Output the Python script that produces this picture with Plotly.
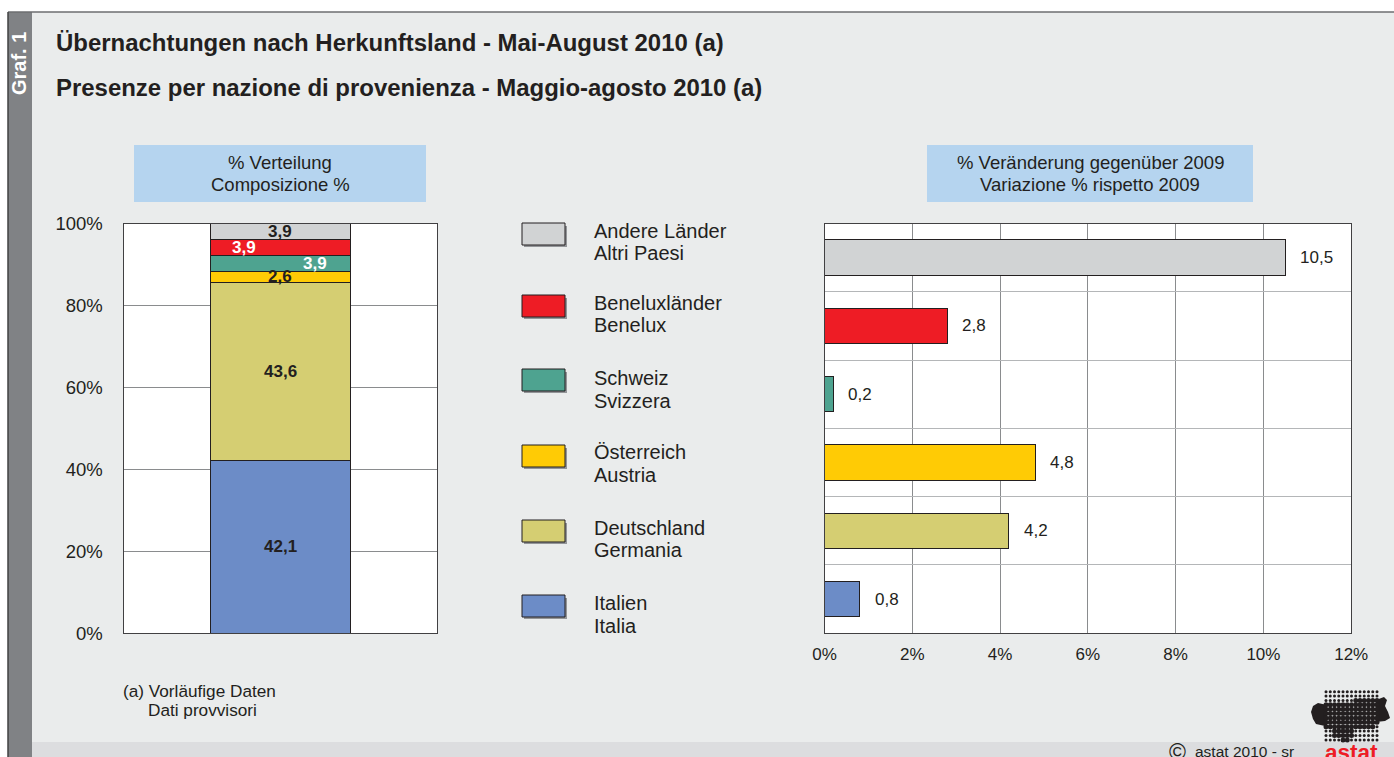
import plotly.graph_objects as go

W, H = 1394, 757

# ---- data ----
categories_de = ["Italien", "Deutschland", "Österreich", "Schweiz", "Beneluxländer", "Andere Länder"]
categories_it = ["Italia", "Germania", "Austria", "Svizzera", "Benelux", "Altri Paesi"]
composition = [42.1, 43.6, 2.6, 3.9, 3.9, 3.9]
change_2009 = [0.8, 4.2, 4.8, 0.2, 2.8, 10.5]
colors = ["#6C8CC7", "#D5CE72", "#FFCB05", "#4EA390", "#EE1C25", "#D1D3D4"]
comp_label_colors = ["#231F20", "#231F20", "#231F20", "#FFFFFF", "#FFFFFF", "#231F20"]
comp_label_shift = [0, 0, 0, 35, -36, 0]
left_ticks = [0, 20, 40, 60, 80, 100]
right_ticks = [0, 2, 4, 6, 8, 10, 12]
title_de = "Übernachtungen nach Herkunftsland - Mai-August 2010 (a)"
title_it = "Presenze per nazione di provenienza - Maggio-agosto 2010 (a)"
panel_left = ["% Verteilung", "Composizione %"]
panel_right = ["% Veränderung gegenüber 2009", "Variazione % rispetto 2009"]
footnote = ["(a) Vorläufige Daten", "Dati provvisori"]
credit = "astat 2010 - sr"

FONT = "Liberation Sans, Arial, sans-serif"
INK = "#231F20"
FRAME = "#414042"
BG = "#EAECEC"
GRID = "#8A8C8E"
GRID_LIGHT = "#B4B6B8"


def px(x):
    return x / W


def py(y):
    return 1 - y / H


def rect(x0, y0, x1, y1, fill, line=None, lw=1, layer="below"):
    return dict(type="rect", xref="paper", yref="paper", x0=px(x0), x1=px(x1), y0=py(y0), y1=py(y1),
                fillcolor=fill, line=dict(color=line or fill, width=lw if line else 0), layer=layer)


def note(x, y, text, size=16, color=INK, bold=False, anchor="left", **kw):
    t = f"<b>{text}</b>" if bold else text
    return dict(xref="paper", yref="paper", x=px(x), y=py(y), text=t, showarrow=False, xanchor=anchor,
                yanchor="middle", align=anchor,
                font=dict(family=FONT, size=size, color=color), **kw)


def blob(points):
    path = "M " + " L ".join(f"{px(a)} {py(b)}" for a, b in points) + " Z"
    return dict(type="path", xref="paper", yref="paper", layer="below", fillcolor=INK, line=dict(width=0), path=path)


fig = go.Figure()

# left stacked column
base = 0
comp_notes = []
for name, it, val, col, lc, shift in zip(categories_de, categories_it, composition, colors, comp_label_colors, comp_label_shift):
    fig.add_trace(go.Bar(x=["Anteil"], y=[val], name=name, marker=dict(color=col, line=dict(color=INK, width=1)),
                         width=0.446, xaxis="x", yaxis="y", showlegend=False, hoverinfo="y"))
    comp_notes.append(dict(xref="x", yref="y", x="Anteil", y=base + val / 2, xshift=shift, showarrow=False,
                           text=f"<b>{str(val).replace('.', ',')}</b>",
                           font=dict(family=FONT, size=17, color=lc)))
    base += val

# right horizontal bars: one slot per country, grid lines mark the slot edges
slots = list(range(len(change_2009)))
slot_mid = [s + 0.5 for s in slots]
fig.add_trace(go.Bar(x=change_2009, y=slot_mid, orientation="h", width=0.52,
                     marker=dict(color=colors, line=dict(color=INK, width=1)),
                     xaxis="x2", yaxis="y2", showlegend=False, hoverinfo="x"))
value_notes = [dict(xref="x2", yref="y2", x=v, y=m, xshift=13, xanchor="left", showarrow=False,
                    text=str(v).replace(".", ","), font=dict(family=FONT, size=17, color=INK))
               for v, m in zip(change_2009, slot_mid)]

shapes = [
    rect(8, 12, W, H, BG),
    rect(8, 12, 32, H, "#808285"),
    rect(32, 742, W, H, "#DCDDDF"),
    rect(134, 145, 426, 202, "#B5D4EF"),
    rect(927, 145, 1253, 202, "#B5D4EF"),
    rect(123.5, 223.5, 437.2, 633.2, "#FFFFFF"),
    rect(824.5, 223.5, 1351.2, 633.2, "#FFFFFF"),
    dict(type="line", xref="paper", yref="paper", x0=px(8), x1=1, y0=py(12), y1=py(12), line=dict(color="#6D6E71", width=1.5), layer="below"),
    dict(type="line", xref="paper", yref="paper", x0=px(8), x1=px(8), y0=py(12), y1=0, line=dict(color="#414042", width=1.5), layer="below"),
]

annotations = comp_notes + value_notes + [
    note(54, 43, title_de, size=23.95, bold=True),
    note(54, 88, title_it, size=23.95, bold=True),
    note(280, 162.5, panel_left[0], size=18.5, anchor="center"),
    note(280, 184, panel_left[1], size=18.5, anchor="center"),
    note(1090, 162.5, panel_right[0], size=18.5, anchor="center"),
    note(1090, 184, panel_right[1], size=18.5, anchor="center"),
    note(121, 691, footnote[0], size=17.2),
    note(146, 710, footnote[1], size=17.2),
    note(1193, 751, credit, size=15.5),
    note(1167, 752, "©", size=23),
    note(1351, 752, "<b>astat</b>", size=22.5, color="#EE1C25", anchor="center"),
    dict(xref="paper", yref="paper", x=px(19), y=py(64), text="<b>Graf. 1</b>", showarrow=False, textangle=-90,
         xanchor="center", yanchor="middle", font=dict(family=FONT, size=20, color="#FFFFFF")),
]

# legend drawn top-down, swatches with a soft shadow
swatch_top = [223, 295, 369, 445, 520, 595]
legend_y = [242, 314, 389.5, 463.5, 539, 614.5]
legend_rows = list(zip(categories_de, categories_it, colors))[::-1]
for (de, it, col), top, ly in zip(legend_rows, swatch_top, legend_y):
    shapes.append(rect(524, top + 3, 567, top + 24, "#939598"))
    shapes.append(rect(522, top, 565, top + 22, col, line=INK, lw=1))
    annotations.append(note(592, ly - 11.25, de, size=20))
    annotations.append(note(592, ly + 11.25, it, size=20))

axis_common = dict(showline=True, linecolor=FRAME, linewidth=1, mirror=True, zeroline=False)
tick_y = dict(family=FONT, size=18.5, color=INK)
tick_x = dict(family=FONT, size=17, color=INK)

# logo: dotted grid with a dark silhouette
logo_x = [1326 + 4.25 * i for i in range(13)]
logo_y = [691.7 + 4.38 * j for j in range(12)]
dots_x, dots_y, big_x, big_y = [], [], [], []
for j, yy in enumerate(logo_y):
    for i, xx in enumerate(logo_x):
        dots_x.append(xx)
        dots_y.append(yy)
        inside = ((j == 2 and i >= 7) or 3 <= j <= 7 or (j == 8 and i <= 11)
                  or (j in (9, 10) and 2 <= i <= 6) or (j == 11 and i in (4, 5)))
        if inside:
            big_x.append(xx)
            big_y.append(yy)
fig.add_trace(go.Scatter(x=dots_x, y=dots_y, mode="markers", marker=dict(size=3, color=INK),
                         xaxis="x3", yaxis="y3", showlegend=False, hoverinfo="skip"))
fig.add_trace(go.Scatter(x=big_x, y=big_y, mode="markers", marker=dict(size=5, color=INK),
                         xaxis="x3", yaxis="y3", showlegend=False, hoverinfo="skip"))
shapes.append(blob([(1327, 705), (1318, 703), (1313, 706), (1311, 712), (1313, 719), (1316, 724), (1325, 726), (1327, 726)]))
shapes.append(blob([(1376, 700), (1384, 697), (1387, 700), (1385, 706), (1388, 712), (1390, 718), (1385, 721), (1376, 722)]))

fig.update_layout(
    width=W, height=H, margin=dict(l=0, r=0, t=0, b=0, autoexpand=False), autosize=False,
    paper_bgcolor="#FFFFFF", plot_bgcolor="rgba(0,0,0,0)", barmode="stack", bargap=0,
    shapes=shapes, annotations=annotations,
    xaxis=dict(domain=[px(123.5), px(437.2)], showticklabels=False, showgrid=False, type="category", anchor="y", ticks="", **axis_common),
    yaxis=dict(domain=[py(633.2), py(223.5)], range=[0, 100], tickvals=left_ticks, ticktext=[f"{v}%" for v in left_ticks],
               tickfont=tick_y, showgrid=True, gridcolor=GRID, gridwidth=1, ticklen=16, tickcolor="rgba(0,0,0,0)", anchor="x",
               ticks="outside", **axis_common),
    xaxis2=dict(domain=[px(824.5), px(1351.2)], range=[0, 12], tickvals=right_ticks, ticktext=[f"{v}%" for v in right_ticks],
                tickfont=tick_x, showgrid=True, gridcolor=GRID, gridwidth=1, anchor="y2", ticklen=5, tickcolor="rgba(0,0,0,0)",
                ticks="outside", **axis_common),
    yaxis2=dict(domain=[py(633.2), py(223.5)], range=[0, 6], dtick=1, showticklabels=False, showgrid=True, gridcolor=GRID_LIGHT,
                gridwidth=1, anchor="x2", ticks="", **axis_common),
    xaxis3=dict(domain=[0, 1], range=[0, W], visible=False, fixedrange=True, anchor="y3"),
    yaxis3=dict(domain=[0, 1], range=[H, 0], visible=False, fixedrange=True, anchor="x3"),
)

fig.write_html("out.html", config=dict(displayModeBar=False),
               post_script="document.body.style.margin='0';document.body.style.overflow='hidden';")
